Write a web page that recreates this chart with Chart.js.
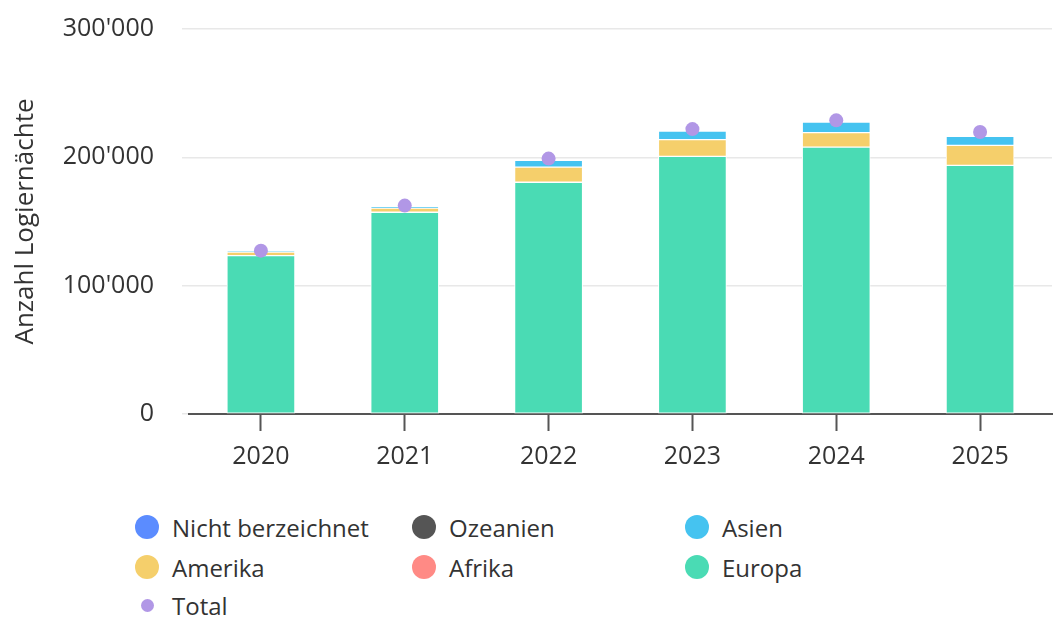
<!DOCTYPE html>
<html lang="de">
<head>
<meta charset="utf-8">
<title>Logiernächte nach Herkunft</title>
<script src="https://cdn.jsdelivr.net/npm/chart.js@4.4.1/dist/chart.umd.min.js"></script>
<style>
  html, body { margin: 0; padding: 0; background: #fff; }
  body { width: 1059px; height: 617px; position: relative; overflow: hidden; font-family: 'Open Sans', sans-serif; color: #333; }
  .chart-box { position: absolute; left: 0; top: -14px; width: 1059px; height: 495px; }
  .legend { position: absolute; left: 0; top: 0; width: 1059px; }
  .legend .item { position: absolute; display: flex; align-items: center; font-size: 24px; color: #333; height: 30px; white-space: nowrap; }
  .legend .dot { display: inline-block; border-radius: 50%; }
</style>
</head>
<body>
<div class="chart-box"><canvas id="chart"></canvas></div>
<div class="legend" id="legend"></div>
<script>
const years = ['2020', '2021', '2022', '2023', '2024', '2025'];

// Logiernächte nach Herkunftsregion
const europa = [123400, 157200, 180600, 200700, 208000, 193700];
const afrika = [0, 0, 0, 0, 0, 0];
const amerika = [2800, 3300, 11800, 13100, 11200, 15600];
const asien = [400, 600, 5200, 6700, 8300, 7000];
const ozeanien = [0, 0, 0, 0, 0, 0];
const nichtBezeichnet = [0, 0, 0, 0, 0, 0];
const total = [127300, 162400, 199000, 222000, 228800, 219700];

const yTicks = [0, 100000, 200000, 300000];

const colors = {
  europa: '#4adbb4',
  afrika: '#ff8a85',
  amerika: '#f5cf6b',
  asien: '#45c3f0',
  ozeanien: '#555555',
  nicht: '#5b8cff',
  total: '#b197e6',
};

const fontFamily = "'Open Sans', sans-serif";

function formatThousands(value) {
  return String(Math.round(value)).replace(/\B(?=(\d{3})+(?!\d))/g, "'");
}

function barSet(label, data, color) {
  return {
    type: 'bar',
    label,
    data,
    backgroundColor: color,
    borderColor: '#ffffff',
    borderWidth: 1,
    borderSkipped: false,
    stack: 'regionen',
    order: 1,
    barThickness: 68,
  };
}

const datasets = [
  barSet('Europa', europa, colors.europa),
  barSet('Afrika', afrika, colors.afrika),
  barSet('Amerika', amerika, colors.amerika),
  barSet('Asien', asien, colors.asien),
  barSet('Ozeanien', ozeanien, colors.ozeanien),
  barSet('Nicht berzeichnet', nichtBezeichnet, colors.nicht),
  {
    type: 'line',
    label: 'Total',
    data: total,
    showLine: false,
    pointRadius: 7,
    pointBackgroundColor: colors.total,
    pointBorderWidth: 0,
    stack: 'total',
    order: 0,
  },
];

new Chart(document.getElementById('chart'), {
  data: { labels: years, datasets },
  options: {
    responsive: true,
    maintainAspectRatio: false,
    animation: false,
    layout: { padding: { top: 2, right: 6, bottom: 0, left: 0 } },
    plugins: {
      legend: { display: false },
      tooltip: { enabled: false },
    },
    scales: {
      x: {
        stacked: true,
        grid: { display: true, offset: false, drawOnChartArea: false, tickLength: 17, tickColor: '#555', tickWidth: 2 },
        border: { display: true, color: '#555', width: 2 },
        ticks: { color: '#333', padding: 11, font: { family: fontFamily, size: 25 } },
        afterFit: (scale) => { scale.height = 67; },
      },
      y: {
        stacked: true,
        min: 0,
        max: 300000,
        afterBuildTicks: (scale) => { scale.ticks = yTicks.map((value) => ({ value })); },
        grid: { color: '#e8e8e8', lineWidth: 1.5, tickLength: 7, tickColor: '#e8e8e8' },
        border: { display: false },
        ticks: {
          color: '#333',
          padding: 28,
          font: { family: fontFamily, size: 25 },
          callback: (value) => formatThousands(value),
        },
        title: {
          display: true,
          text: 'Anzahl Logiernächte',
          color: '#333',
          font: { family: fontFamily, size: 26 },
          padding: { top: 10, bottom: 0 },
        },
        afterFit: (scale) => { scale.width = 189; },
      },
    },
  },
});

// Legende in drei Spalten
const legendItems = [
  { label: 'Nicht berzeichnet', color: colors.nicht, x: 135, y: 527, size: 24 },
  { label: 'Ozeanien', color: colors.ozeanien, x: 412, y: 527, size: 24 },
  { label: 'Asien', color: colors.asien, x: 685, y: 527, size: 24 },
  { label: 'Amerika', color: colors.amerika, x: 135, y: 567, size: 24 },
  { label: 'Afrika', color: colors.afrika, x: 412, y: 567, size: 24 },
  { label: 'Europa', color: colors.europa, x: 685, y: 567, size: 24 },
  { label: 'Total', color: colors.total, x: 141, y: 605, size: 13 },
];

const legendEl = document.getElementById('legend');
legendItems.forEach((item) => {
  const el = document.createElement('div');
  el.className = 'item';
  el.style.left = `${item.x}px`;
  el.style.top = `${item.y - 15}px`;
  const gap = item.size < 20 ? 18 : 13;
  el.innerHTML = `<span class="dot" style="width:${item.size}px;height:${item.size}px;background:${item.color};margin-right:${gap}px"></span><span>${item.label}</span>`;
  legendEl.appendChild(el);
});
</script>
</body>
</html>
